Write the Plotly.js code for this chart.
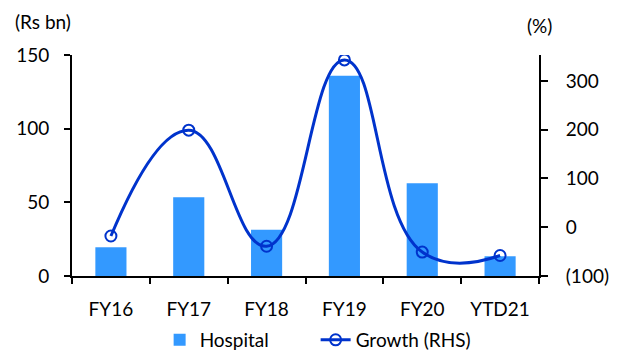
<!DOCTYPE html>
<html><head><meta charset="utf-8">
<script src="https://cdn.plot.ly/plotly-3.0.1.min.js"></script>
<style>html,body{margin:0;padding:0;background:#fff}#chart{width:626px;height:353px}</style>
</head><body><div id="chart"></div>
<script>
const categories = ["FY16","FY17","FY18","FY19","FY20","YTD21"];
const hospital = [19.5, 53.4, 31.4, 136.0, 62.9, 13.4];
const growth = [-18, 199, -39, 343, -51, -58];
const rightTickVals = [-100, 0, 100, 200, 300];
const rightTickText = ["(100)", "0", "100", "200", "300"];
const leftTickVals = [0, 50, 100, 150];

const FONT = {family: "Lato, 'Open Sans', sans-serif", size: 19, color: "#000"};

const traces = [
  {type: "bar", name: "Hospital", x: categories, y: hospital,
   marker: {color: "#3399FF"}, yaxis: "y"},
  {type: "scatter", mode: "lines+markers", name: "Growth (RHS)", x: categories, y: growth,
   yaxis: "y2", line: {color: "#0033CC", width: 3, shape: "spline", smoothing: 1.3},
   marker: {symbol: "circle-open", size: 11, color: "#0033CC", line: {width: 2}}}
];

const layout = {
  width: 626, height: 353,
  margin: {l: 72, r: 87, t: 55, b: 77},
  paper_bgcolor: "#fff", plot_bgcolor: "#fff",
  font: FONT,
  bargap: 0.6,
  showlegend: true,
  legend: {orientation: "h", xref: "container", yref: "container",
           x: 0.255, xanchor: "left", y: 0.037, yanchor: "middle",
           font: FONT, entrywidth: 111, bgcolor: "rgba(0,0,0,0)"},
  xaxis: {type: "category", showline: true, linecolor: "#000", linewidth: 2,
          ticks: "outside", tickson: "boundaries", ticklen: 6, tickwidth: 2, tickcolor: "#000",
          showgrid: false, zeroline: false, ticklabelstandoff: 15, automargin: false},
  yaxis: {range: [0, 150], tickvals: leftTickVals, showline: true, linecolor: "#000", linewidth: 2,
          ticks: "outside", ticklen: 6, tickwidth: 2, tickcolor: "#000",
          showgrid: false, zeroline: false, ticklabelstandoff: 11, automargin: false},
  yaxis2: {range: [-100, 353], overlaying: "y", side: "right",
           tickvals: rightTickVals, ticktext: rightTickText,
           showline: true, linecolor: "#000", linewidth: 2,
           ticks: "outside", ticklen: 7, tickwidth: 2, tickcolor: "#000",
           showgrid: false, zeroline: false, ticklabelstandoff: 14, automargin: false},
  annotations: [
    {text: "(Rs bn)", xref: "paper", yref: "paper", x: -0.127, y: 1.15,
     xanchor: "left", yanchor: "middle", showarrow: false, font: FONT},
    {text: "(%)", xref: "paper", yref: "paper", x: 1.0, y: 1.135,
     xanchor: "center", yanchor: "middle", showarrow: false, font: FONT}
  ]
};

Plotly.newPlot("chart", traces, layout, {displayModeBar: false, staticPlot: true});
</script>
</body></html>
